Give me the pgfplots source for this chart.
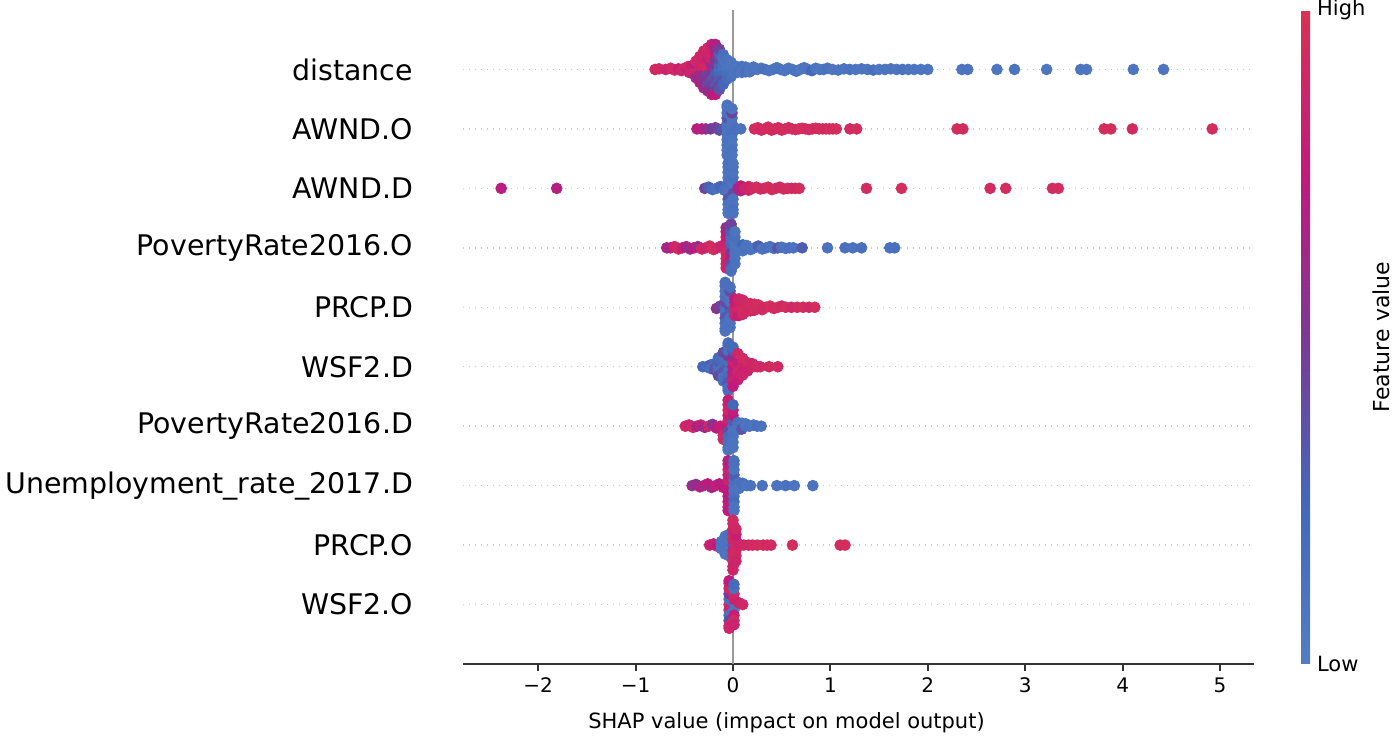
\documentclass[border=0pt]{standalone}
\usepackage{fontspec}
\setmainfont{DejaVu Sans}
\usepackage{pgfplots}
\pgfplotsset{compat=1.18}
\usepackage{pgfplotstable}
\definecolor{zline}{HTML}{999999}
\definecolor{spine}{HTML}{333333}
\definecolor{gridc}{HTML}{C8C8C8}
\pgfplotsset{colormap={shapcm}{rgb255=(82,125,195) rgb255=(68,103,185) rgb255=(122,58,148) rgb255=(195,25,125) rgb255=(215,50,85)}}
\pgfplotstableread{
x y c
-0.80 9.00 0.90
-0.76 9.01 0.92
-0.69 9.00 0.85
-0.64 9.02 0.90
-0.60 8.99 0.92
-0.56 9.01 0.80
-0.53 8.98 0.88
-0.50 9.02 0.90
-0.47 9.00 0.70
-0.46 9.05 0.92
-0.45 8.95 0.85
-0.42 9.00 0.90
-0.42 9.06 0.80
-0.42 8.94 0.85
-0.38 9.00 0.92
-0.38 9.08 0.70
-0.38 8.92 0.88
-0.38 9.14 0.90
-0.38 8.86 0.60
-0.34 9.00 0.90
-0.34 9.09 0.85
-0.34 8.91 0.65
-0.34 9.18 0.90
-0.34 8.82 0.55
-0.34 9.22 0.88
-0.34 8.78 0.70
-0.30 9.00 0.92
-0.30 9.09 0.90
-0.30 8.91 0.60
-0.30 9.18 0.85
-0.30 8.82 0.50
-0.30 9.27 0.90
-0.30 8.73 0.55
-0.30 9.31 0.88
-0.30 8.69 0.65
-0.26 9.00 0.95
-0.26 9.09 0.90
-0.26 8.91 0.45
-0.26 9.18 0.80
-0.26 8.82 0.55
-0.26 9.27 0.85
-0.26 8.73 0.40
-0.26 9.36 0.90
-0.26 8.64 0.60
-0.22 9.00 0.80
-0.22 9.09 0.55
-0.22 8.91 0.50
-0.22 9.18 0.85
-0.22 8.82 0.35
-0.22 9.27 0.90
-0.22 8.73 0.45
-0.22 9.36 0.85
-0.22 8.64 0.50
-0.22 9.42 0.80
-0.22 8.58 0.70
-0.18 9.00 0.40
-0.18 9.09 0.60
-0.18 8.91 0.30
-0.18 9.18 0.50
-0.18 8.82 0.40
-0.18 9.27 0.75
-0.18 8.73 0.35
-0.18 9.36 0.60
-0.18 8.64 0.45
-0.18 9.42 0.70
-0.18 8.58 0.75
-0.14 9.00 0.15
-0.14 9.09 0.25
-0.14 8.91 0.20
-0.14 9.18 0.40
-0.14 8.82 0.30
-0.14 9.27 0.20
-0.14 8.73 0.40
-0.14 9.34 0.45
-0.14 8.66 0.35
-0.10 9.00 0.10
-0.10 9.09 0.15
-0.10 8.91 0.20
-0.10 9.18 0.10
-0.10 8.82 0.35
-0.10 9.25 0.15
-0.10 8.75 0.25
-0.06 9.00 0.10
-0.06 9.09 0.08
-0.06 8.91 0.15
-0.06 9.16 0.12
-0.06 8.84 0.20
-0.02 9.00 0.08
-0.02 9.08 0.10
-0.02 8.92 0.12
-0.02 9.12 0.10
-0.02 8.88 0.15
0.02 9.00 0.08
0.02 9.06 0.10
0.02 8.94 0.10
0.05 9.00 0.10
0.05 9.04 0.08
0.05 8.96 0.12
0.09 9.00 0.10
0.09 9.05 0.12
0.09 8.95 0.08
0.13 9.00 0.08
0.13 9.04 0.10
0.13 8.96 0.15
0.17 9.00 0.10
0.17 8.96 0.08
0.21 9.00 0.12
0.21 9.04 0.10
0.25 9.00 0.08
0.29 9.02 0.10
0.33 9.00 0.15
0.37 8.98 0.10
0.41 9.00 0.08
0.45 9.03 0.10
0.49 9.00 0.12
0.53 8.98 0.08
0.57 9.02 0.10
0.61 9.00 0.10
0.65 8.97 0.12
0.69 9.00 0.08
0.73 9.03 0.10
0.77 9.00 0.10
0.81 8.98 0.25
0.85 9.02 0.10
0.89 9.00 0.08
0.93 9.00 0.10
0.97 9.02 0.12
1.02 9.00 0.08
1.08 8.99 0.10
1.14 9.01 0.10
1.20 9.00 0.12
1.26 9.00 0.08
1.32 9.01 0.10
1.38 9.00 0.10
1.44 8.99 0.15
1.50 9.00 0.08
1.56 9.00 0.10
1.62 9.01 0.10
1.68 9.00 0.08
1.74 9.00 0.12
1.80 9.00 0.10
1.86 9.00 0.10
1.93 9.00 0.08
2.00 9.00 0.10
2.35 9.00 0.08
2.41 9.00 0.10
2.71 9.00 0.08
2.89 9.00 0.10
3.22 9.00 0.08
3.57 9.00 0.10
3.63 9.00 0.08
4.11 9.00 0.08
4.42 9.00 0.10
-0.37 8.00 0.70
-0.32 8.00 0.75
-0.28 8.00 0.60
-0.23 8.00 0.50
-0.18 8.02 0.45
-0.14 7.98 0.40
-0.10 8.00 0.35
-0.06 8.00 0.10
-0.06 8.09 0.12
-0.06 7.91 0.10
-0.06 8.18 0.35
-0.06 7.82 0.08
-0.06 8.27 0.10
-0.06 7.73 0.12
-0.06 8.36 0.15
-0.06 7.64 0.10
-0.06 8.40 0.10
-0.06 7.56 0.10
-0.01 8.00 0.12
-0.01 8.09 0.10
-0.01 7.91 0.15
-0.01 8.18 0.10
-0.01 7.82 0.10
-0.01 8.27 0.45
-0.01 7.73 0.08
-0.01 8.34 0.10
-0.01 7.64 0.12
-0.01 7.56 0.10
0.04 8.00 0.15
0.08 8.00 0.12
0.220 8.00 0.93
0.255 8.02 0.95
0.290 7.98 0.90
0.325 8.00 0.95
0.360 8.03 0.93
0.395 7.98 0.95
0.430 8.00 0.92
0.465 8.02 0.95
0.500 7.98 0.93
0.535 8.00 0.95
0.570 8.02 0.95
0.605 8.00 0.92
0.640 7.99 0.95
0.675 8.00 0.93
0.710 8.01 0.95
0.745 8.00 0.95
0.780 7.99 0.92
0.815 8.00 0.95
0.850 8.01 0.93
0.885 8.00 0.95
0.920 8.00 0.95
0.955 8.00 0.92
0.990 8.00 0.95
1.025 8.00 0.93
1.060 8.00 0.95
1.20 8.00 0.93
1.27 8.00 0.95
2.30 8.00 0.95
2.36 8.00 0.93
3.81 8.00 0.95
3.88 8.00 0.95
4.10 8.00 0.93
4.92 8.00 0.95
-2.38 7.00 0.72
-1.81 7.00 0.70
-0.29 7.00 0.45
-0.25 7.02 0.30
-0.21 6.98 0.20
-0.17 7.00 0.15
-0.13 7.03 0.25
-0.09 6.97 0.15
-0.05 7.00 0.10
-0.05 7.09 0.15
-0.05 6.91 0.10
-0.05 7.18 0.10
-0.05 6.82 0.35
-0.05 7.27 0.10
-0.05 6.73 0.12
-0.05 7.36 0.10
-0.05 6.64 0.10
-0.05 7.42 0.12
-0.05 6.58 0.10
0.00 7.00 0.12
0.00 7.09 0.10
0.00 6.91 0.40
0.00 7.18 0.15
0.00 6.82 0.10
0.00 7.27 0.10
0.00 6.73 0.10
0.00 7.36 0.12
0.00 6.64 0.15
0.00 7.42 0.10
0.00 6.58 0.12
0.05 7.00 0.60
0.08 7.04 0.75
0.08 6.96 0.70
0.12 7.00 0.85
0.16 7.03 0.90
0.16 6.97 0.88
0.20 7.00 0.92
0.24 7.02 0.93
0.28 6.99 0.95
0.32 7.00 0.92
0.36 7.02 0.95
0.40 6.98 0.93
0.44 7.00 0.95
0.48 7.02 0.92
0.52 6.99 0.95
0.56 7.00 0.93
0.60 7.00 0.95
0.64 7.00 0.92
0.68 7.00 0.95
1.37 7.00 0.93
1.73 7.00 0.95
2.64 7.00 0.93
2.80 7.00 0.95
3.28 7.00 0.93
3.34 7.00 0.95
-0.68 6.00 0.62
-0.64 6.00 0.70
-0.60 6.02 0.88
-0.56 5.98 0.92
-0.52 6.00 0.80
-0.48 6.02 0.65
-0.44 5.98 0.60
-0.40 6.00 0.75
-0.36 6.02 0.62
-0.32 5.98 0.92
-0.28 6.00 0.85
-0.24 6.03 0.92
-0.20 5.97 0.95
-0.16 6.00 0.90
-0.12 6.03 0.85
-0.07 6.00 0.90
-0.07 6.09 0.85
-0.07 5.91 0.92
-0.07 6.18 0.80
-0.07 5.82 0.90
-0.07 6.27 0.75
-0.07 5.73 0.85
-0.07 6.34 0.60
-0.07 5.66 0.88
-0.02 6.00 0.30
-0.02 6.09 0.20
-0.02 5.91 0.50
-0.02 6.18 0.15
-0.02 5.82 0.70
-0.02 6.27 0.25
-0.02 5.73 0.40
-0.02 6.36 0.35
-0.02 5.64 0.20
-0.02 6.40 0.45
-0.02 5.61 0.15
0.02 6.00 0.10
0.02 6.09 0.10
0.02 5.91 0.12
0.02 6.18 0.15
0.02 5.82 0.10
0.02 6.27 0.10
0.02 5.73 0.12
0.06 6.04 0.12
0.06 5.96 0.10
0.10 6.00 0.10
0.10 6.05 0.25
0.10 5.95 0.10
0.14 6.00 0.15
0.14 6.04 0.10
0.18 5.97 0.12
0.22 6.00 0.10
0.26 6.03 0.30
0.30 5.98 0.10
0.34 6.00 0.15
0.38 6.02 0.12
0.42 5.99 0.10
0.46 6.00 0.35
0.50 6.01 0.12
0.54 5.99 0.10
0.58 6.00 0.15
0.62 6.00 0.12
0.71 6.00 0.30
0.97 6.00 0.12
1.15 6.00 0.15
1.23 6.00 0.12
1.32 6.00 0.15
1.61 6.00 0.12
1.66 6.00 0.15
-0.17 4.98 0.55
-0.13 5.02 0.45
-0.08 5.00 0.15
-0.08 5.09 0.40
-0.08 4.91 0.12
-0.08 5.18 0.15
-0.08 4.82 0.35
-0.08 5.27 0.10
-0.08 4.73 0.15
-0.08 5.36 0.12
-0.08 4.64 0.10
-0.08 5.42 0.15
-0.08 4.60 0.12
-0.03 5.00 0.45
-0.03 5.09 0.12
-0.03 4.91 0.30
-0.03 5.18 0.10
-0.03 4.82 0.12
-0.03 5.27 0.40
-0.03 4.73 0.10
-0.03 5.34 0.15
-0.03 4.66 0.12
0.02 5.00 0.85
0.02 5.08 0.80
0.02 4.92 0.90
0.02 5.14 0.75
0.02 4.86 0.85
0.06 5.00 0.90
0.06 5.08 0.85
0.06 4.92 0.92
0.06 5.14 0.88
0.06 4.86 0.80
0.10 5.00 0.92
0.10 5.08 0.88
0.10 4.92 0.95
0.10 5.12 0.90
0.10 4.88 0.92
0.14 5.00 0.95
0.14 5.07 0.90
0.14 4.93 0.92
0.18 5.00 0.92
0.18 5.06 0.95
0.18 4.94 0.90
0.22 5.00 0.95
0.22 5.05 0.92
0.22 4.95 0.93
0.26 5.00 0.93
0.26 5.04 0.95
0.30 5.00 0.95
0.30 4.96 0.92
0.34 5.00 0.92
0.38 5.02 0.95
0.42 4.98 0.93
0.46 5.00 0.95
0.50 5.02 0.92
0.54 5.00 0.95
0.60 5.00 0.90
0.66 5.00 0.93
0.72 5.00 0.95
0.78 5.00 0.92
0.84 5.00 0.95
-0.31 4.00 0.25
-0.27 4.00 0.20
-0.23 4.03 0.30
-0.23 3.97 0.15
-0.19 4.05 0.20
-0.19 3.95 0.35
-0.15 4.00 0.15
-0.15 4.09 0.30
-0.15 3.91 0.12
-0.15 4.15 0.20
-0.15 3.85 0.40
-0.10 4.00 0.12
-0.10 4.09 0.20
-0.10 3.91 0.35
-0.10 4.18 0.15
-0.10 3.82 0.10
-0.10 4.24 0.40
-0.10 3.76 0.15
-0.05 4.00 0.30
-0.05 4.09 0.15
-0.05 3.91 0.12
-0.05 4.18 0.45
-0.05 3.82 0.20
-0.05 4.27 0.15
-0.05 3.73 0.35
-0.05 4.36 0.12
-0.05 3.64 0.15
-0.05 4.40 0.20
-0.05 3.60 0.18
0.00 4.00 0.75
0.00 4.09 0.85
0.00 3.91 0.70
0.00 4.18 0.55
0.00 3.82 0.80
0.00 4.27 0.30
0.00 3.73 0.85
0.00 4.33 0.20
0.00 3.67 0.75
0.05 4.00 0.85
0.05 4.09 0.80
0.05 3.91 0.90
0.05 4.18 0.75
0.05 3.82 0.85
0.05 4.22 0.90
0.05 3.78 0.80
0.10 4.00 0.90
0.10 4.09 0.85
0.10 3.91 0.80
0.10 4.14 0.92
0.10 3.86 0.88
0.15 4.00 0.88
0.15 4.07 0.92
0.15 3.93 0.85
0.20 4.00 0.90
0.20 4.05 0.88
0.25 4.00 0.92
0.28 4.00 0.90
0.37 4.00 0.93
0.46 4.00 0.92
-0.49 3.00 0.90
-0.45 3.02 0.85
-0.41 2.98 0.92
-0.37 3.00 0.65
-0.33 3.02 0.80
-0.29 2.98 0.60
-0.25 3.00 0.88
-0.21 3.03 0.55
-0.17 2.97 0.70
-0.13 3.00 0.80
-0.10 2.85 0.90
-0.10 2.78 0.92
-0.05 3.00 0.75
-0.05 3.09 0.85
-0.05 2.91 0.40
-0.05 3.18 0.80
-0.05 2.82 0.20
-0.05 3.27 0.90
-0.05 2.73 0.15
-0.05 3.36 0.85
-0.05 2.64 0.12
-0.05 3.44 0.80
-0.05 2.60 0.10
0.00 3.00 0.15
0.00 3.09 0.30
0.00 2.91 0.10
0.00 3.18 0.70
0.00 2.82 0.12
0.00 3.27 0.80
0.00 2.73 0.10
0.00 3.36 0.25
0.00 2.64 0.10
0.05 3.00 0.12
0.05 3.06 0.15
0.05 2.94 0.10
0.09 3.00 0.10
0.09 3.05 0.12
0.09 2.95 0.35
0.13 3.00 0.15
0.13 3.04 0.10
0.17 3.00 0.12
0.21 3.02 0.10
0.25 3.00 0.15
0.29 3.00 0.12
-0.42 2.00 0.60
-0.38 2.02 0.55
-0.34 1.98 0.70
-0.30 2.00 0.62
-0.26 2.03 0.75
-0.22 1.97 0.65
-0.18 2.00 0.80
-0.14 2.03 0.70
-0.10 1.97 0.75
-0.05 2.00 0.75
-0.05 2.09 0.85
-0.05 1.91 0.70
-0.05 2.18 0.80
-0.05 1.82 0.75
-0.05 2.27 0.85
-0.05 1.73 0.70
-0.05 2.36 0.75
-0.05 1.64 0.80
-0.05 2.42 0.70
-0.05 1.58 0.75
0.01 2.00 0.12
0.01 2.09 0.15
0.01 1.91 0.10
0.01 2.18 0.30
0.01 1.82 0.12
0.01 2.27 0.10
0.01 1.73 0.20
0.01 2.36 0.12
0.01 1.64 0.10
0.01 2.42 0.15
0.01 1.58 0.10
0.06 2.00 0.15
0.06 2.05 0.12
0.06 1.95 0.10
0.10 2.00 0.12
0.10 2.04 0.15
0.14 2.00 0.10
0.18 2.00 0.12
0.30 2.00 0.12
0.45 2.00 0.10
0.54 2.00 0.12
0.63 2.00 0.10
0.82 2.00 0.12
-0.24 1.00 0.85
-0.20 1.02 0.80
-0.16 0.98 0.75
-0.12 1.00 0.10
-0.12 1.06 0.12
-0.12 0.94 0.10
-0.08 1.00 0.08
-0.08 1.08 0.10
-0.08 0.92 0.12
-0.08 1.15 0.10
-0.08 0.85 0.10
-0.04 1.00 0.12
-0.04 1.09 0.10
-0.04 0.91 0.08
-0.04 1.18 0.15
-0.04 0.82 0.10
0.00 1.00 0.30
0.00 1.09 0.90
0.00 0.91 0.85
0.00 1.18 0.92
0.00 0.82 0.90
0.00 1.27 0.88
0.00 0.73 0.92
0.00 1.36 0.90
0.00 0.64 0.85
0.00 1.42 0.92
0.00 0.58 0.88
0.03 1.00 0.92
0.03 1.09 0.88
0.03 0.91 0.90
0.03 1.18 0.80
0.03 0.82 0.92
0.03 1.27 0.90
0.03 0.73 0.88
0.07 1.00 0.85
0.11 1.00 0.92
0.16 1.00 0.90
0.20 1.00 0.93
0.25 1.00 0.92
0.31 1.00 0.95
0.35 1.00 0.92
0.39 1.00 0.93
0.61 1.00 0.95
1.10 1.00 0.93
1.15 1.00 0.95
-0.04 0.00 0.90
-0.04 0.09 0.15
-0.04 -0.09 0.85
-0.04 0.18 0.50
-0.04 -0.18 0.12
-0.04 0.27 0.90
-0.04 -0.27 0.40
-0.04 0.36 0.85
-0.04 -0.36 0.90
-0.04 0.40 0.75
-0.04 -0.40 0.88
0.01 0.00 0.15
0.01 0.09 0.85
0.01 -0.09 0.10
0.01 0.18 0.90
0.01 -0.18 0.80
0.01 0.27 0.12
0.01 -0.27 0.92
0.01 0.34 0.20
0.01 -0.34 0.85
0.06 0.03 0.85
0.10 0.00 0.90
}\shapdata

\begin{document}
\begin{tikzpicture}
\path[use as bounding box] (0,0) rectangle (697pt,370pt);
\begin{axis}[
  at={(231.5pt,38pt)}, anchor=south west,
  width=395.5pt, height=327pt, scale only axis,
  xmin=-2.772, xmax=5.349, ymin=-1, ymax=10,
  axis x line*=bottom, axis y line*=left,
  x axis line style={-, draw=spine, line width=1pt},
  y axis line style={draw=none},
  xtick={-2,-1,0,1,2,3,4,5},
  xticklabels={−2,−1,0,1,2,3,4,5},
  ytick={0,1,2,3,4,5,6,7,8,9},
  yticklabels={WSF2.O,PRCP.O,Unemployment\_rate\_2017.D,PovertyRate2016.D,WSF2.D,PRCP.D,PovertyRate2016.O,AWND.D,AWND.O,distance},
  tick align=outside,
  major tick length=3.5pt,
  xtick style={color=spine, line width=1pt},
  ytick style={draw=none},
  ymajorgrids,
  major grid style={draw=gridc, line width=0.7pt, dash pattern=on 0.6pt off 2.4pt},
  xticklabel style={font=\fontsize{10}{12}\selectfont},
  yticklabel style={font=\fontsize{14.2}{16}\selectfont, xshift=-18pt},
  xlabel={SHAP value (impact on model output)},
  xlabel style={font=\fontsize{10.5}{12}\selectfont, at={(ticklabel cs:0.409)}, anchor=near ticklabel, yshift=-3pt},
  point meta min=0, point meta max=1,
  colormap name=shapcm,
  colorbar,
  colorbar style={at={(parent axis.north east)}, anchor=north west, xshift=15pt, width=4.5pt,
    ytick={0,1}, yticklabels={Low,High}, major tick length=0pt, axis line style={draw=none},
    yticklabel style={font=\fontsize{10.5}{12}\selectfont},
    ylabel={Feature value},
    ylabel style={font=\fontsize{11}{12}\selectfont, at={(rel axis cs:1,0.5)}, anchor=south, yshift=-43.5pt}},
]
\addplot[draw=zline, line width=1.4pt, forget plot] coordinates {(0,-1) (0,10)};
\addplot[scatter, only marks, mark=*, mark size=2.7pt, scatter src=explicit,
  scatter/use mapped color={draw=mapped color, fill=mapped color}]
  table[x=x, y=y, meta=c] {\shapdata};
\end{axis}
\end{tikzpicture}
\end{document}
